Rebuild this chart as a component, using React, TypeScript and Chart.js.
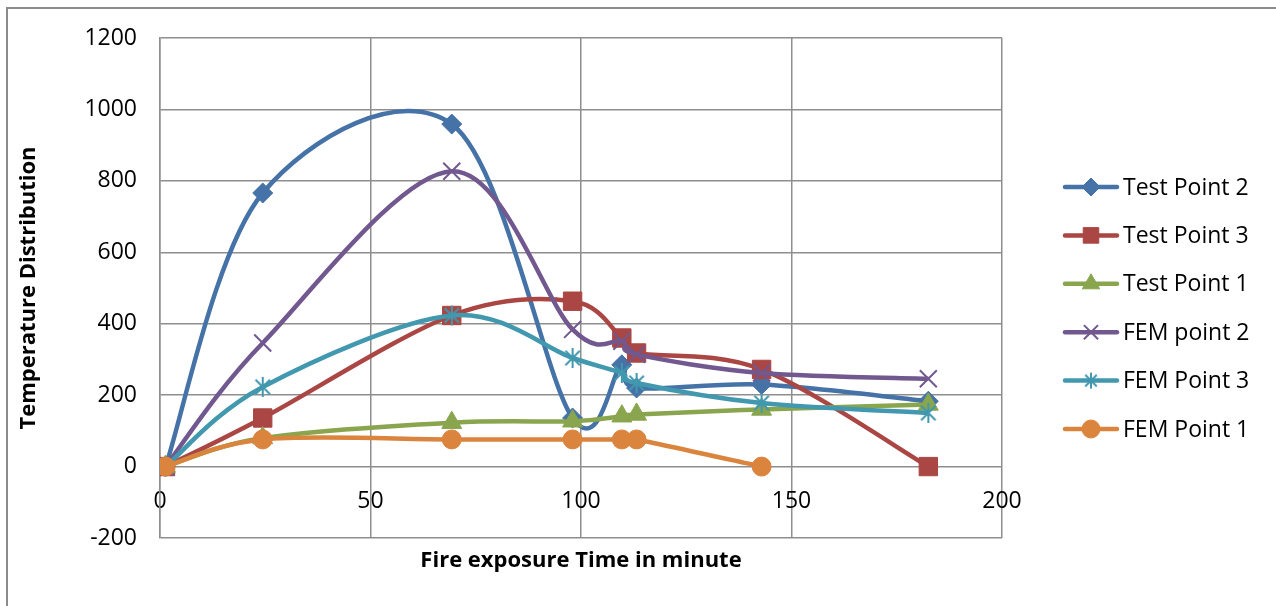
import React, { useEffect, useRef } from 'react';
import { Chart, registerables } from 'chart.js';
import { drawPoint } from 'chart.js/helpers';

Chart.register(...registerables);

const TIME = [1.3, 24.4, 69.3, 98, 109.7, 113.2, 142.9, 182.5];
const TEST_POINT_2 = [0, 766, 959, 136, 285, 220, 230, 183];
const TEST_POINT_3 = [0, 136, 423, 463, 360, 318, 272, 0];
const TEST_POINT_1 = [0, 80, 123, 127, 141, 146, 160, 174];
const FEM_POINT_2 = [0, 346, 827, 384, 351, 314, 262, 246];
const FEM_POINT_3 = [0, 223, 423, 304, 262, 234, 178, 150];
const FEM_POINT_1 = [0, 76, 76, 76, 76, 76, 0];

const SERIES_LABELS = ['Test Point 2', 'Test Point 3', 'Test Point 1', 'FEM point 2', 'FEM Point 3', 'FEM Point 1'];
const SERIES_COLORS = ['#4572A7', '#AA4643', '#89A54E', '#71588F', '#4198AF', '#DB843D'];

const X_MIN = 0;
const X_MAX = 200;
const X_STEP = 50;
const Y_MIN = -200;
const Y_MAX = 1200;
const Y_STEP = 200;

const X_TITLE = 'Fire exposure Time in minute';
const Y_TITLE = 'Temperature Distribution';

const FONT = '"Open Sans", "DejaVu Sans", sans-serif';
const GRID = '#8e8e8e';

function makeAsterisk(color: string, size: number, lw: number) {
  const c = document.createElement('canvas');
  c.width = size;
  c.height = size;
  const g = c.getContext('2d')!;
  g.strokeStyle = color;
  g.lineWidth = lw;
  const m = size / 2;
  const r = size / 2 - 1;
  const d = r * 0.72;
  g.beginPath();
  g.moveTo(m, m - r);
  g.lineTo(m, m + r);
  g.moveTo(m - d, m - d);
  g.lineTo(m + d, m + d);
  g.moveTo(m + d, m - d);
  g.lineTo(m - d, m + d);
  g.stroke();
  return c;
}

// Excel-style smoothing: uniform Catmull-Rom (1/6 tangent) in pixel space
const excelSmooth = {
  id: 'excelSmooth',
  beforeDatasetsDraw(chart: any) {
    chart.data.datasets.forEach((_: any, di: number) => {
      const meta = chart.getDatasetMeta(di);
      const line: any = meta.dataset;
      if (!line) return;
      line.updateControlPoints(chart.chartArea, 'x');
      const pts = meta.data as any[];
      const n = pts.length;
      for (let i = 0; i < n; i++) {
        const p = pts[i];
        const prev = pts[Math.max(0, i - 1)];
        const next = pts[Math.min(n - 1, i + 1)];
        const dx = (next.x - prev.x) / 6;
        const dy = (next.y - prev.y) / 6;
        p.cp1x = p.x - dx;
        p.cp1y = p.y - dy;
        p.cp2x = p.x + dx;
        p.cp2y = p.y + dy;
      }
      line._path = undefined;
    });
  },
};

export default function App() {
  const ref = useRef<HTMLCanvasElement | null>(null);

  useEffect(() => {
    if (!ref.current) return;
    const star = makeAsterisk(SERIES_COLORS[4], 22, 2);
    const starSmall = makeAsterisk(SERIES_COLORS[4], 18, 2);

    const toXY = (ys: number[]) => ys.map((y, i) => ({ x: TIME[i], y }));
    const allSeries = [TEST_POINT_2, TEST_POINT_3, TEST_POINT_1, FEM_POINT_2, FEM_POINT_3, FEM_POINT_1];
    const styles: any[] = ['rectRot', 'rect', 'triangle', 'crossRot', star, 'circle'];
    const radii = [10, 13, 11.5, 12, 11, 9.5];
    const legendStyles: any[] = ['rectRot', 'rect', 'triangle', 'crossRot', starSmall, 'circle'];
    const legendRadii = [9, 11, 10, 10, 9, 9];

    const datasets = allSeries.map((ys, i) => ({
      label: SERIES_LABELS[i],
      data: toXY(ys),
      borderColor: SERIES_COLORS[i],
      backgroundColor: SERIES_COLORS[i],
      pointBackgroundColor: SERIES_COLORS[i],
      pointBorderColor: SERIES_COLORS[i],
      pointBorderWidth: i === 3 ? 2 : 1,
      pointStyle: styles[i],
      pointRadius: radii[i],
      borderWidth: 4.5,
      tension: 0.5,
      showLine: true,
      fill: false,
      order: 6 - i,
    }));

    const decor = {
      id: 'decor',
      afterDraw(chart: any) {
        const ctx = chart.ctx;
        const ca = chart.chartArea;
        ctx.save();
        ctx.fillStyle = '#000';
        ctx.font = `bold 22px ${FONT}`;
        ctx.textAlign = 'center';
        ctx.textBaseline = 'middle';
        ctx.fillText(X_TITLE, (ca.left + ca.right) / 2, 561);

        ctx.font = `23px ${FONT}`;
        ctx.textAlign = 'left';
        SERIES_LABELS.forEach((label, i) => {
          const y = 187 + i * 48.4;
          const col = SERIES_COLORS[i];
          ctx.strokeStyle = col;
          ctx.lineWidth = 4.5;
          ctx.lineCap = 'round';
          ctx.beginPath();
          ctx.moveTo(1065, y);
          ctx.lineTo(1117, y);
          ctx.stroke();
          ctx.fillStyle = col;
          ctx.strokeStyle = col;
          ctx.lineWidth = i === 3 ? 2 : 1;
          ctx.lineCap = 'butt';
          drawPoint(ctx, {
            pointStyle: legendStyles[i],
            radius: legendRadii[i],
            rotation: 0,
            borderWidth: i === 3 ? 2 : 1,
          } as any, 1091, y);
          ctx.fillStyle = '#000';
          ctx.fillText(label, 1123, y + 1);
        });
        ctx.restore();
      },
    };

    const chart = new Chart(ref.current, {
      type: 'scatter',
      data: { datasets: datasets as any },
      options: {
        animation: false,
        responsive: true,
        maintainAspectRatio: false,
        layout: { padding: { left: 0, top: 38, right: 274, bottom: 68 } },
        plugins: {
          legend: { display: false },
          tooltip: { enabled: false },
        },
        scales: {
          x: {
            type: 'linear',
            position: { y: 0 } as any,
            min: X_MIN,
            max: X_MAX,
            ticks: {
              stepSize: X_STEP,
              color: '#000',
              font: { family: FONT, size: 23 },
              padding: 21,
              maxRotation: 0,
              callback: (v: any) => String(v),
            },
            grid: { color: GRID, lineWidth: 1.5, drawTicks: false },
            border: { display: false },
          },
          y: {
            type: 'linear',
            position: 'left',
            min: Y_MIN,
            max: Y_MAX,
            afterFit: (s: any) => {
              s.width = 160;
            },
            ticks: {
              stepSize: Y_STEP,
              color: '#000',
              font: { family: FONT, size: 23 },
              padding: 23,
              callback: (v: any) => String(v),
            },
            grid: { color: GRID, lineWidth: 1.5, drawTicks: false },
            border: { display: true, color: GRID, width: 1.5 },
            title: {
              display: true,
              text: Y_TITLE,
              color: '#000',
              font: { family: FONT, size: 22, weight: 'bold' },
              padding: { top: 16, bottom: 0 },
            },
          },
        },
      },
      plugins: [excelSmooth, decor],
    });
    return () => chart.destroy();
  }, []);

  return (
    <>
      <div
        style={{
          position: 'fixed',
          left: 6,
          top: 7,
          width: 1400,
          height: 800,
          borderLeft: '2px solid #8c8c8c',
          borderTop: '2px solid #8c8c8c',
          boxSizing: 'border-box',
        }}
      />
      <div style={{ position: 'fixed', left: 0, top: 0, width: 1276, height: 606 }}>
        <canvas ref={ref} />
      </div>
    </>
  );
}
